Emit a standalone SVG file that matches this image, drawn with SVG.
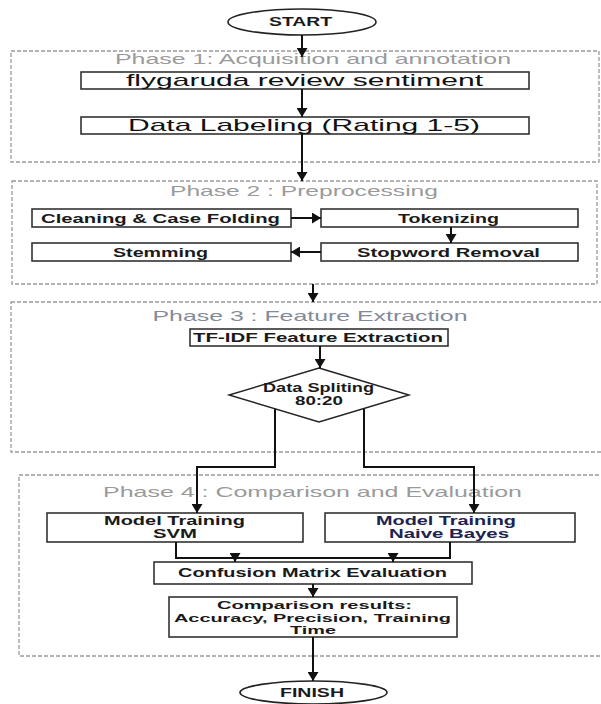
<svg xmlns="http://www.w3.org/2000/svg" width="601" height="704" viewBox="0 0 601 704">
<defs>
<marker id="ah" markerUnits="userSpaceOnUse" markerWidth="9" markerHeight="11" viewBox="0 0 9 11" refX="9" refY="5.5" orient="auto">
<path d="M0,0 L9,5.5 L0,11 z" fill="#111"/>
</marker>
<style>
.phase{fill:none;stroke:#9a9a9a;stroke-width:1.3;stroke-dasharray:4 2}
.ptitle{font-family:"Liberation Sans",Arial,sans-serif;font-size:15px;fill:#9a9a9a;text-anchor:middle}
.box{fill:#fff;stroke:#333;stroke-width:1.6}
.big{font-family:"Liberation Sans",Arial,sans-serif;font-size:17px;fill:#111;text-anchor:middle}
.bt{font-family:"Liberation Sans",Arial,sans-serif;font-size:13px;font-weight:bold;fill:#1a1a1a;text-anchor:middle}
.st{font-family:"Liberation Sans",Arial,sans-serif;font-size:12px;font-weight:bold;fill:#1a1a1a;text-anchor:middle}
.sm{font-family:"Liberation Sans",Arial,sans-serif;font-size:11px;font-weight:bold;fill:#1a1a1a;text-anchor:middle}
.conn{fill:none;stroke:#111;stroke-width:2}
</style>
</defs>

<g id="phases">
<rect class="phase" x="11" y="51" width="588" height="111"/>
<text class="ptitle" x="313" y="64" textLength="396" lengthAdjust="spacingAndGlyphs">Phase 1: Acquisition and annotation</text>
<rect class="phase" x="12" y="181" width="585" height="103"/>
<text class="ptitle" x="304" y="196" textLength="268" lengthAdjust="spacingAndGlyphs">Phase 2 : Preprocessing</text>
<rect class="phase" x="11" y="302" width="595" height="150"/>
<text class="ptitle" x="310" y="321" textLength="315" lengthAdjust="spacingAndGlyphs" style="fill:#838b98">Phase 3 : Feature Extraction</text>
<rect class="phase" x="19" y="475" width="590" height="181"/>
<text class="ptitle" x="312.5" y="497" textLength="419" lengthAdjust="spacingAndGlyphs">Phase 4 : Comparison and Evaluation</text>
</g>

<g id="start">
<ellipse cx="302" cy="22" rx="74" ry="13" fill="#fff" stroke="#222" stroke-width="1.6"/>
<text class="st" x="300.5" y="26" textLength="63" lengthAdjust="spacingAndGlyphs">START</text>
</g>

<g id="flygaruda">
<rect class="box" x="81" y="72" width="448" height="17"/>
<text class="big" x="304.5" y="86" textLength="357" lengthAdjust="spacingAndGlyphs">flygaruda review sentiment</text>
</g>

<g id="labeling">
<rect class="box" x="81" y="117" width="448" height="17"/>
<text class="big" x="304" y="131" textLength="352" lengthAdjust="spacingAndGlyphs">Data Labeling (Rating 1-5)</text>
</g>

<g id="cleaning">
<rect class="box" x="32" y="209" width="259" height="18"/>
<text class="bt" x="160.5" y="223" textLength="239" lengthAdjust="spacingAndGlyphs">Cleaning &amp; Case Folding</text>
</g>

<g id="tokenizing">
<rect class="box" x="321" y="209" width="257" height="18"/>
<text class="bt" x="448.5" y="223" textLength="101" lengthAdjust="spacingAndGlyphs">Tokenizing</text>
</g>

<g id="stopword">
<rect class="box" x="321" y="243" width="257" height="18"/>
<text class="bt" x="448.5" y="257" textLength="183" lengthAdjust="spacingAndGlyphs">Stopword Removal</text>
</g>

<g id="stemming">
<rect class="box" x="32" y="243" width="259" height="18"/>
<text class="bt" x="160.5" y="257" textLength="95" lengthAdjust="spacingAndGlyphs">Stemming</text>
</g>

<g id="tfidf">
<rect class="box" x="190" y="329" width="258" height="17"/>
<text class="bt" x="318" y="342" textLength="250" lengthAdjust="spacingAndGlyphs">TF-IDF Feature Extraction</text>
</g>

<g id="split">
<polygon points="319,368 409,395 319,422 229,395" fill="#fff" stroke="#222" stroke-width="1.4"/>
<text class="st" x="318.5" y="392" textLength="111" lengthAdjust="spacingAndGlyphs">Data Spliting</text>
<text class="st" x="319" y="405" textLength="48" lengthAdjust="spacingAndGlyphs">80:20</text>
</g>

<g id="svm">
<rect class="box" x="47" y="513" width="256" height="29"/>
<text class="st" x="174.5" y="525" textLength="141" lengthAdjust="spacingAndGlyphs">Model Training</text>
<text class="st" x="175" y="538" textLength="44" lengthAdjust="spacingAndGlyphs">SVM</text>
</g>

<g id="nb">
<rect class="box" x="325" y="513" width="250" height="29"/>
<text class="st" x="446" y="525" textLength="140" lengthAdjust="spacingAndGlyphs" style="fill:#1e2350">Model Training</text>
<text class="st" x="449" y="538" textLength="120" lengthAdjust="spacingAndGlyphs" style="fill:#1e2350">Naive Bayes</text>
</g>

<g id="confusion">
<rect class="box" x="154" y="562" width="318" height="22"/>
<text class="st" x="312.5" y="577" textLength="269" lengthAdjust="spacingAndGlyphs">Confusion Matrix Evaluation</text>
</g>

<g id="comparison">
<rect class="box" x="169" y="597" width="288" height="40"/>
<text class="sm" x="314.5" y="609" textLength="195" lengthAdjust="spacingAndGlyphs">Comparison results:</text>
<text class="sm" x="312.5" y="621.5" textLength="277" lengthAdjust="spacingAndGlyphs">Accuracy, Precision, Training</text>
<text class="sm" x="313" y="634" textLength="46" lengthAdjust="spacingAndGlyphs">Time</text>
</g>

<g id="finish">
<ellipse cx="313.5" cy="692.5" rx="73.5" ry="11.5" fill="#fff" stroke="#222" stroke-width="1.6"/>
<text class="st" x="312" y="697" textLength="64" lengthAdjust="spacingAndGlyphs">FINISH</text>
</g>

<g id="connectors">
<line class="conn" x1="302" y1="35" x2="302" y2="57" marker-end="url(#ah)"/>
<line class="conn" x1="302" y1="89" x2="302" y2="117" marker-end="url(#ah)"/>
<line class="conn" x1="302" y1="134" x2="302" y2="181" marker-end="url(#ah)"/>
<line class="conn" x1="291" y1="218" x2="321" y2="218" marker-end="url(#ah)"/>
<line class="conn" x1="451" y1="227" x2="451" y2="243" marker-end="url(#ah)"/>
<line class="conn" x1="321" y1="252" x2="291" y2="252" marker-end="url(#ah)"/>
<line class="conn" x1="313" y1="284" x2="313" y2="302" marker-end="url(#ah)"/>
<line class="conn" x1="320" y1="346" x2="320" y2="368" marker-end="url(#ah)"/>
<polyline class="conn" points="275,409 275,467 197,467 197,513" marker-end="url(#ah)"/>
<polyline class="conn" points="364,409 364,467 474,467 474,513" marker-end="url(#ah)"/>
<polyline class="conn" points="176,542 176,558 450,558 450,542"/>
<line class="conn" x1="235" y1="556" x2="235" y2="562" marker-end="url(#ah)"/>
<line class="conn" x1="393" y1="556" x2="393" y2="562" marker-end="url(#ah)"/>
<line class="conn" x1="313" y1="584" x2="313" y2="597" marker-end="url(#ah)"/>
<line class="conn" x1="313" y1="637" x2="313" y2="681" marker-end="url(#ah)"/>
</g>
</svg>
